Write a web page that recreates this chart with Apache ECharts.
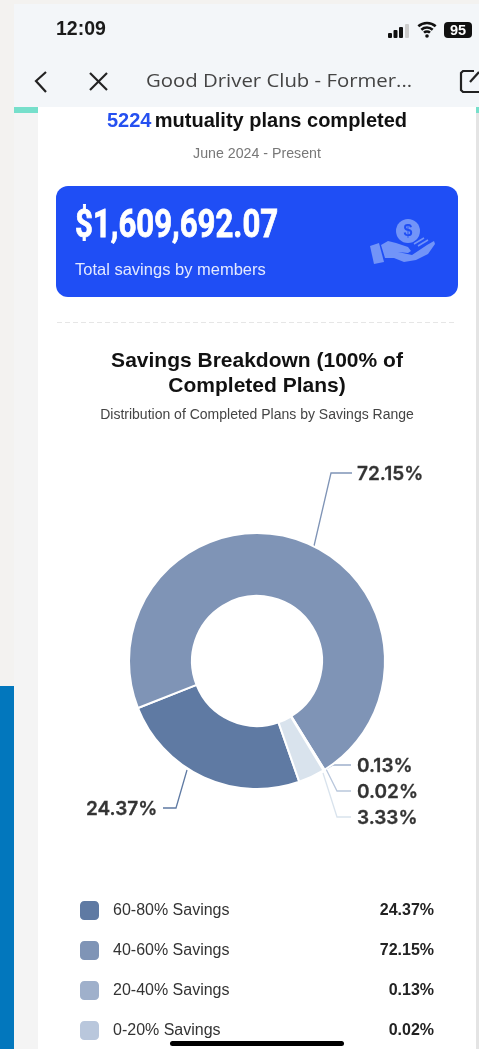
<!DOCTYPE html>
<html><head><meta charset="utf-8">
<style>html,body{margin:0;padding:0;background:#fff}#c{width:479px;height:1049px}</style>
<script src="https://cdn.jsdelivr.net/npm/echarts@6/dist/echarts.min.js"></script>
</head><body><div id="c"></div>
<script>
const categories = ['60-80% Savings','40-60% Savings','20-40% Savings','0-20% Savings','Other Savings'];
const shares = [24.37,72.15,0.13,0.02,3.33];
const colors = ['#5f7aa3','#7f94b6','#9fb0cb','#b9c7dc','#d9e3ed'];
const labelSpots = [[86,809,'left'],[357,474,'left'],[357,766,'left'],[357,792,'left'],[357,818,'left']];
const linePoints = [
  [[187,770],[176,808],[163,808]],
  [[314,546],[331,473],[352,473]],
  [[326,769],[333,765],[351,765]],
  [[326,769],[337,791],[351,791]],
  [[323,773],[337,817],[351,817]]
];
const SANS = '"Liberation Sans",Arial,sans-serif';
const chart = echarts.init(document.getElementById('c'),null,{renderer:'canvas'});
const T=(x,y,text,size,color,weight,align,family,scaleX)=>({type:'text',x,y,z:1,scaleX:scaleX||1,style:{text,fontSize:size,fill:color,fontWeight:weight||400,fontFamily:family||SANS,align:align||'left',verticalAlign:'middle'}});
const R=(x,y,w,h,fill,r,z)=>({type:'rect',z:z||0,shape:{x,y,width:w,height:h,r:r||0},style:{fill}});
const PL=(points,stroke,w)=>({type:'polyline',z:1,shape:{points},style:{stroke,lineWidth:w,fill:null}});
const PG=(points,fill)=>({type:'polygon',z:1,shape:{points},style:{fill}});
const ARC=(cx,cy,r,w)=>({type:'arc',z:1,shape:{cx,cy,r,startAngle:-2.3,endAngle:-0.84,clockwise:true},style:{stroke:'#111',lineWidth:w,fill:null}});
chart.setOption({
  animation:false,
  backgroundColor:'#fff',
  title:{left:252,top:344,textAlign:'center',text:'Savings Breakdown (100% of\nCompleted Plans)',
    textStyle:{fontFamily:SANS,fontSize:21,fontWeight:700,color:'#111',lineHeight:25},
    subtext:'Distribution of Completed Plans by Savings Range',itemGap:9,
    subtextStyle:{fontFamily:SANS,fontSize:14,color:'#444'}},
  legend:{show:true,orient:'vertical',left:78,top:899,padding:0,itemWidth:21,itemHeight:21,itemGap:17,icon:'roundRect',
    data:categories.slice(0,4),selectedMode:false,
    formatter:n=>`{n|${n}}{v|${shares[categories.indexOf(n)].toFixed(2)}%}`,
    textStyle:{rich:{
      n:{fontFamily:SANS,fontSize:16,color:'#333',width:231,lineHeight:21,padding:[0,0,0,8]},
      v:{fontFamily:SANS,fontSize:16,fontWeight:700,color:'#222',width:90,lineHeight:21,align:'right'}}}},
  graphic:[
    R(0,0,479,1049,'#f3f2f0'),
    R(0,686,14,363,'#0277bd'),
    R(14,107,465,6,'#76dfcb'),
    R(14,113,24,936,'#f4f4f4'),
    R(38,107,438,942,'#ffffff'),
    R(476,113,3,936,'#e4e4e4'),
    R(14,4,465,103,'#f3f6f9'),
    T(56,30,'12:09',19.5,'#1a1a1a',600),
    R(388,33,4,5,'#111',1),R(393.5,30,4,8,'#111',1),R(399,27,4,11,'#111',1),R(405,24,4,14,'#ccc',1),
    ARC(427,36,13,2.6),ARC(427,36,8.5,2.6),ARC(427,36,4.5,2.6),
    {type:'circle',z:1,shape:{cx:427,cy:36,r:1.8},style:{fill:'#111'}},
    R(444,22,28,16,'#111',4),
    T(458,30.5,'95',14.5,'#fff',700,'center'),
    PL([[46,72],[36,81],[46,92]],'#222',2.2),
    PL([[90,73],[107,90]],'#222',2.2),
    PL([[107,73],[90,90]],'#222',2.2),
    T(146,82,'Good Driver Club - Former...',18.5,'#444',400,'left','"Open Sans",sans-serif',1.1),
    PL([[474,71],[463,71],[461,73],[461,90],[463,92],[479,92]],'#222',2.2),
    PL([[470,82],[479,72]],'#222',2.2),
    {type:'text',x:257,y:121,z:1,style:{text:'{a|5224} {b|mutuality plans completed}',align:'center',verticalAlign:'middle',
      rich:{a:{fontFamily:SANS,fontSize:20,fontWeight:700,fill:'#2550f0',color:'#2550f0'},b:{fontFamily:SANS,fontSize:20,fontWeight:700,fill:'#111',color:'#111'}}}},
    T(257,154,'June 2024 - Present',14.2,'#777',400,'center'),
    R(56,186,402,111,'#1f4ef5',12),
    {type:'text',x:75,y:227,z:1,scaleX:0.82,style:{text:'$1,609,692.07',fontSize:38,fontWeight:700,fill:'#fff',stroke:'#fff',lineWidth:0.8,fontFamily:'Roboto,'+SANS,verticalAlign:'middle'}},
    T(75,270,'Total savings by members',16.5,'#e3e9ff'),
    {type:'circle',z:1,shape:{cx:408,cy:231,r:12},style:{fill:'#7294f8'}},
    T(408,231.5,'$',16,'#1f4ef5',700,'center'),
    PG([[370,246],[379,243],[384,262],[374,264]],'#7294f8'),
    PG([[381,245],[388,241],[396,243],[408,247],[411,251],[408,253],[398,252],[412,255],[427,245],[434,241],[435,244],[428,254],[416,260],[404,262],[394,258],[385,258]],'#7294f8'),
    PL([[414,244],[424,238]],'#7294f8',1.5),
    PL([[418,246],[428,240]],'#7294f8',1.5),
    {type:'line',z:1,shape:{x1:57,y1:322.5,x2:455,y2:322.5},style:{stroke:'#e6e6e6',lineWidth:1,lineDash:[5,3]}},
    R(170,1041,174,5,'#000',2.5,10)
  ],
  series:[{
    type:'pie',center:[257,661],radius:[65,128],startAngle:-70.7,clockwise:true,
    itemStyle:{borderColor:'#fff',borderWidth:2},
    label:{show:true,position:'outside',formatter:p=>p.value.toFixed(2)+'%',fontFamily:'Inter,'+SANS,fontSize:19,fontWeight:600,color:'#333',textBorderColor:'#333',textBorderWidth:0.3},
    labelLine:{show:true,lineStyle:{width:1.3}},
    emphasis:{disabled:true},
    labelLayout:p=>({x:labelSpots[p.dataIndex][0],y:labelSpots[p.dataIndex][1],align:labelSpots[p.dataIndex][2],verticalAlign:'middle',hideOverlap:false,moveOverlap:false,labelLinePoints:linePoints[p.dataIndex]}),
    data:categories.map((name,i)=>({name,value:shares[i],itemStyle:{color:colors[i]}}))
  }]
});
</script></body></html>
